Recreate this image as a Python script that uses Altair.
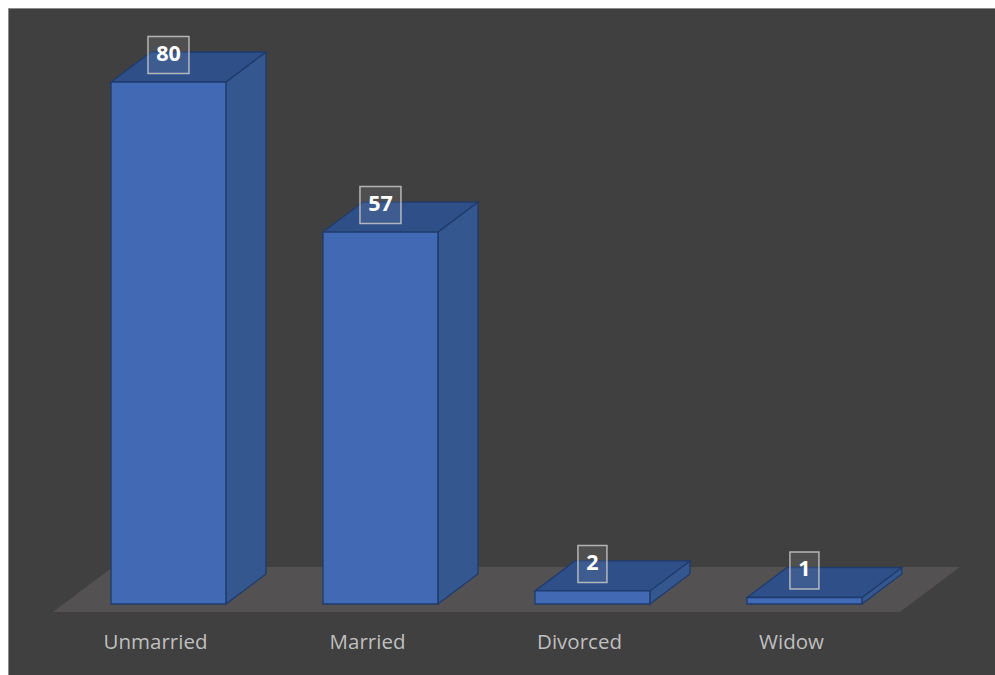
import altair as alt
import pandas as pd

# ---- data ----
categories = ["Unmarried", "Married", "Divorced", "Widow"]
counts = [80, 57, 2, 1]

df = pd.DataFrame({"category": categories, "idx": list(range(len(categories))), "count": counts})

# ---- layout constants (index / value units) ----
HALF_W = 0.271      # half bar width in category units
DX = 0.1887         # 3D depth, x
DY = 4.598          # 3D depth, y (value units)
XDOM = [-0.757, 3.899]
YDOM = [-10.88, 91.34]

FRONT = "#4169b4"
SIDE = "#34578f"
TOP = "#2f4f88"
EDGE = "#1f3b6e"
FLOOR = "#535151"
BG = "#404040"

xs = alt.Scale(domain=XDOM, nice=False, zero=False)
ys = alt.Scale(domain=YDOM, nice=False, zero=False)


def X(f):
    return alt.X(f, type="quantitative", scale=xs, axis=None, stack=None)


def Y(f):
    return alt.Y(f, type="quantitative", scale=ys, axis=None, stack=None)


base = alt.Chart(df)

two_pts = (
    base.transform_calculate(a="0", b="1")
    .transform_fold(["a", "b"], as_=["k", "t"])
    .transform_calculate(t="toNumber(datum.t)")
)

floor = (
    base.transform_aggregate(imin="min(idx)", imax="max(idx)")
    .transform_calculate(a="0", b="1")
    .transform_fold(["a", "b"], as_=["k", "t"])
    .transform_calculate(
        fy="-1.226 + toNumber(datum.t) * 6.9",
        fx="datum.imin - 0.545 + toNumber(datum.t) * 0.283",
        fx2="datum.imax + 0.45 + toNumber(datum.t) * 0.283",
    )
    .mark_area(orient="horizontal", color=FLOOR)
    .encode(y=Y("fy"), x=X("fx"), x2="fx2:Q")
)

side = (
    two_pts.transform_calculate(
        sx=f"datum.idx + {HALF_W} + datum.t * {DX}",
        sy=f"datum.t * {DY}",
        sy2=f"datum.count + datum.t * {DY}",
    )
    .mark_area(orient="vertical", fill=SIDE, stroke=EDGE, strokeWidth=1.3)
    .encode(x=X("sx"), y=Y("sy"), y2="sy2:Q", detail="category:N")
)

top = (
    two_pts.transform_calculate(
        ty=f"datum.count + datum.t * {DY}",
        tx=f"datum.idx - {HALF_W} + datum.t * {DX}",
        tx2=f"datum.idx + {HALF_W} + datum.t * {DX}",
    )
    .mark_area(orient="horizontal", fill=TOP, stroke=EDGE, strokeWidth=1.3)
    .encode(y=Y("ty"), x=X("tx"), x2="tx2:Q", detail="category:N")
)

front = (
    base.transform_calculate(
        fx1=f"datum.idx - {HALF_W}", fx2=f"datum.idx + {HALF_W}", zero="0"
    )
    .mark_rect(fill=FRONT, stroke=EDGE, strokeWidth=1.3)
    .encode(x=X("fx1"), x2="fx2:Q", y=Y("zero"), y2="count:Q")
)

boxes = (
    base.transform_calculate(
        hw="(8.5 + 6 * length(toString(datum.count))) / 212",
    )
    .transform_calculate(
        bx1="datum.idx - datum.hw",
        bx2="datum.idx + datum.hw",
        by1="datum.count + 1.30",
        by2="datum.count + 6.97",
    )
    .mark_rect(fill="#ffffff", fillOpacity=0.08, stroke="#c8c8c8", strokeOpacity=0.85, strokeWidth=1.5)
    .encode(x=X("bx1"), x2="bx2:Q", y=Y("by1"), y2="by2:Q")
)

value_text = (
    base.transform_calculate(ly="datum.count + 4.14")
    .mark_text(font="Open Sans", fontWeight="bold", fontSize=21.5, color="white",
               align="center", baseline="middle")
    .encode(x=X("idx"), y=Y("ly"), text="count:Q")
)

cat_text = (
    base.transform_calculate(cx="datum.idx - 0.061", cy="-5.98")
    .mark_text(font="Open Sans", fontSize=20.5, color="#bfbfbf",
               align="center", baseline="middle")
    .encode(x=X("cx"), y=Y("cy"), text="category:N")
)

chart = (
    alt.layer(floor, side, top, front, boxes, value_text, cat_text)
    .properties(
        width=987,
        height=667,
        autosize=alt.AutoSizeParams(type="none"),
        padding={"left": 8, "top": 8, "right": 0, "bottom": 0},
        background="white",
    )
    .configure_view(fill=BG, stroke="#8a8a8a", strokeWidth=1)
)

chart.save("out.html", embed_options={"renderer": "svg", "actions": False})
